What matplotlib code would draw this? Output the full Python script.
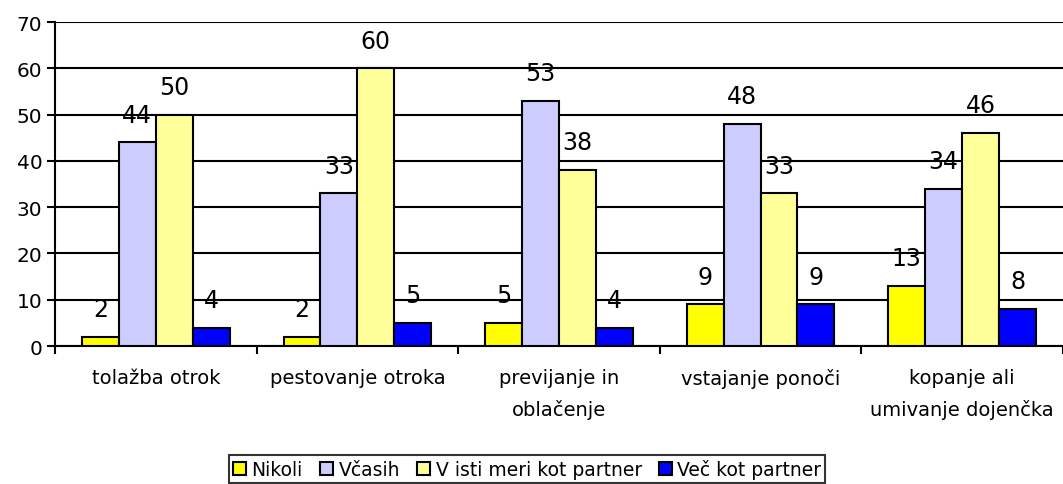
import matplotlib.pyplot as plt
import numpy as np

# categories and series (percent)
categories = ["tolažba otrok", "pestovanje otroka", "previjanje in\noblačenje",
              "vstajanje ponoči", "kopanje ali\numivanje dojenčka"]
series_names = ["Nikoli", "Včasih", "V isti meri kot partner", "Več kot partner"]
nikoli = [2, 2, 5, 9, 13]
vcasih = [44, 33, 53, 48, 34]
isti = [50, 60, 38, 33, 46]
vec = [4, 5, 4, 9, 8]
colors = ["#FFFF00", "#CCCCFF", "#FFFF99", "#0000FF"]

plt.rcParams['font.family'] = ['DejaVu Sans']

fig = plt.figure(figsize=(10.63, 4.85), dpi=100)
ax = fig.add_axes([0.0517, 0.2845, 0.9483, 0.668])

x = np.arange(len(categories))
w = 0.183
all_vals = [nikoli, vcasih, isti, vec]
for i, vals in enumerate(all_vals):
    pos = x + (i - 1.5) * w
    bars = ax.bar(pos, vals, w, color=colors[i], edgecolor="black", linewidth=1.5,
                  label=series_names[i], zorder=3)
    for b, v in zip(bars, vals):
        ax.annotate(str(v), (b.get_x() + b.get_width() / 2, v), xytext=(0, 20),
                    textcoords="offset points", ha="center", va="center",
                    fontsize=17, zorder=4)

ax.set_ylim(0, 70)
ax.set_xlim(-0.5, 4.5)
ax.set_yticks(range(0, 71, 10))
ax.yaxis.grid(True, color="black", linewidth=1.5, zorder=0)
ax.tick_params(axis="y", labelsize=14.5, length=6, width=1.5, direction="out", pad=3)

ax.set_xticks(x)
ax.set_xticklabels(categories, fontsize=14, linespacing=1.75)
ax.set_xticks(np.arange(-0.5, 5, 1), minor=True)
ax.tick_params(axis="x", which="major", length=0, pad=16)
ax.tick_params(axis="x", which="minor", length=6, width=1.5, direction="out")

for s in ["top", "right"]:
    ax.spines[s].set_visible(False)
ax.spines["left"].set_linewidth(1.5)
ax.spines["bottom"].set_linewidth(1.5)

leg = fig.legend(loc="center", bbox_to_anchor=(0.496, 0.031), ncol=4, fontsize=13.5,
                 frameon=True, fancybox=False, handlelength=0.7, handleheight=0.7,
                 handletextpad=0.3, columnspacing=0.9, borderpad=0.2, borderaxespad=0)
leg.get_frame().set_edgecolor("black")
leg.get_frame().set_linewidth(1.5)

fig.savefig("out.png", dpi=100)
